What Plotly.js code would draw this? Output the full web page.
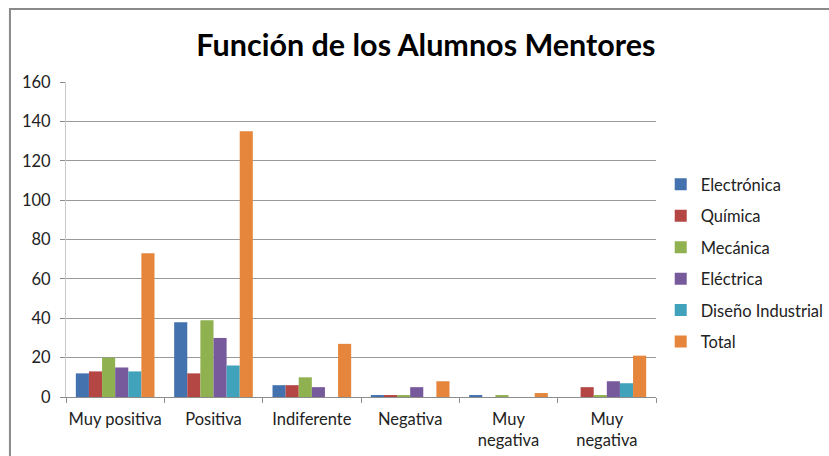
<!DOCTYPE html>
<html>
<head>
<meta charset="utf-8">
<script src="https://cdn.plot.ly/plotly-3.0.1.min.js"></script>
<style>html,body{margin:0;padding:0;background:#fff;}#chart{width:829px;height:456px;}</style>
</head>
<body>
<div id="chart"></div>
<script>
const categories = ["Muy positiva", "Positiva", "Indiferente", "Negativa", "Muy<br>negativa", "Muy<br>negativa"];
const seriesNames = ["Electrónica", "Química", "Mecánica", "Eléctrica", "Diseño Industrial", "Total"];
const electronica = [12, 38, 6, 1, 1, 0];
const quimica = [13, 12, 6, 1, 0, 5];
const mecanica = [20, 39, 10, 1, 1, 1];
const electrica = [15, 30, 5, 5, 0, 8];
const disenoIndustrial = [13, 16, 0, 0, 0, 7];
const total = [73, 135, 27, 8, 2, 21];
const yTicks = [0, 20, 40, 60, 80, 100, 120, 140, 160];

const colors = ["#4472AE", "#B44643", "#90B150", "#775A9B", "#41A2BB", "#E5863C"];
const seriesValues = [electronica, quimica, mecanica, electrica, disenoIndustrial, total];
const xIdx = categories.map((c, i) => i);

const traces = seriesValues.map((vals, k) => ({
  type: "bar",
  name: seriesNames[k],
  x: xIdx,
  y: vals,
  legendgroup: "g" + k,
  marker: { color: colors[k], line: { width: 0 } },
  hoverinfo: "name+y"
}));

const font = "Lato, 'Open Sans', sans-serif";
const fs = 16.5;
const layout = {
  width: 829, height: 456,
  margin: { l: 66, r: 173, t: 82, b: 59, autoexpand: false },
  paper_bgcolor: "#fff", plot_bgcolor: "#fff",
  barmode: "group", bargap: 0.2, bargroupgap: 0,
  font: { family: font, size: fs, color: "#222" },
  title: { text: "<b>Función de los Alumnos Mentores</b>", font: { family: font, size: 30.5, color: "#000" },
           x: 0.61, xanchor: "center", y: 0.9, yanchor: "middle", xref: "paper" },
  xaxis: {
    type: "linear", range: [-0.5, 5.5], tickmode: "array", tickvals: xIdx, ticktext: categories,
    ticks: "", showgrid: false, zeroline: false, showline: true, linecolor: "#8c8c8c", linewidth: 1,
    tickfont: { family: font, size: fs, color: "#222" }, ticklabelstandoff: 7,
    minor: { tickmode: "linear", tick0: -0.5, dtick: 1, ticks: "outside", ticklen: 5, tickcolor: "#8c8c8c", showgrid: false },
    fixedrange: true
  },
  yaxis: {
    range: [0, 160], tickmode: "array", tickvals: yTicks, ticks: "outside", ticklen: 5, tickcolor: "#8c8c8c",
    showgrid: true, gridcolor: "#999", gridwidth: 1, zeroline: false,
    showline: true, linecolor: "#c8c8c8", linewidth: 1,
    tickfont: { family: font, size: fs, color: "#222" }, ticklabelstandoff: 6,
    fixedrange: true
  },
  legend: {
    x: 1.008, xanchor: "left", y: 0.73, yanchor: "top",
    font: { family: font, size: fs, color: "#222" },
    traceorder: "grouped", tracegroupgap: 7, itemwidth: 30,
    bgcolor: "rgba(0,0,0,0)"
  },
  shapes: [{
    type: "path", xref: "paper", yref: "paper",
    path: "M -0.095,-0.3 L -0.095,1.232 L 2,1.232",
    line: { color: "#8a8a8a", width: 2 }, layer: "above"
  }],
  showlegend: true
};

Plotly.newPlot("chart", traces, layout, { displayModeBar: false, staticPlot: true });
</script>
</body>
</html>
